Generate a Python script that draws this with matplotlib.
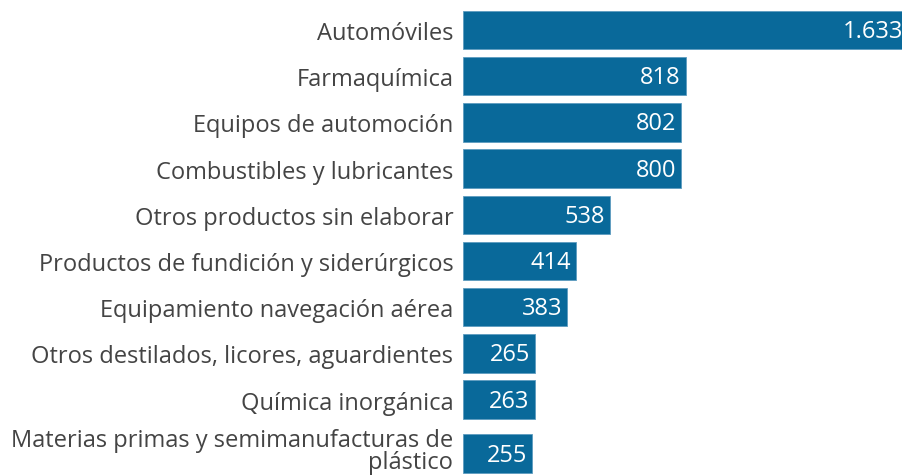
import matplotlib
matplotlib.use('Agg')
import matplotlib.pyplot as plt
import matplotlib.transforms as mtransforms
import numpy as np

# exportaciones por sector
sectores = ['Automóviles', 'Farmaquímica', 'Equipos de automoción',
            'Combustibles y lubricantes', 'Otros productos sin elaborar',
            'Productos de fundición y siderúrgicos',
            'Equipamiento navegación aérea',
            'Otros destilados, licores, aguardientes',
            'Química inorgánica',
            'Materias primas y semimanufacturas de\nplástico']
valores = [1633, 818, 802, 800, 538, 414, 383, 265, 263, 255]
etiquetas = ['1.633', '818', '802', '800', '538', '414', '383', '265', '263', '255']

azul = '#09699a'
gris = '#444444'
fuente = 'Open Sans'

# filas con etiqueta de dos lineas se desplazan un poco hacia abajo
nlineas = np.array([s.count('\n') + 1 for s in sectores])
ypos = np.arange(len(sectores)) + 0.17 * (nlineas - 1)

W, H = 902, 477
fig = plt.figure(figsize=(W / 100, H / 100), dpi=100)
# geometria en pixeles
x0 = 463.0
px_unidad = 0.2724
xmax = 1700
pitch = 46.2
y_top = 31 - 0.6 * pitch
y_bot = 31 + (ypos[-1] + 0.6) * pitch
ax = fig.add_axes([x0 / W, 1 - y_bot / H, xmax * px_unidad / W, (y_bot - y_top) / H])

ax.barh(ypos, valores, height=0.83, color=azul, edgecolor='#5d9cc0', linewidth=0.6)
ax.set_xlim(0, xmax)
ax.set_ylim(ypos[-1] + 0.6, -0.6)

for y, v, t in zip(ypos, valores, etiquetas):
    ax.text(v - 18, y + 0.02, t, ha='right', va='center', color='white',
            fontsize=17, family=fuente)

ax.set_yticks(ypos)
ax.set_yticklabels(sectores, fontsize=17, family=fuente, color=gris,
                   linespacing=0.85)
ax.tick_params(axis='y', length=0, pad=7)
ax.set_xticks([])
for s in ax.spines.values():
    s.set_visible(False)

# la etiqueta de dos lineas sube un poco para no salirse por abajo
for lab, n in zip(ax.get_yticklabels(), nlineas):
    if n > 1:
        lab.set_transform(lab.get_transform() +
                          mtransforms.ScaledTranslation(0, 3 / 72, fig.dpi_scale_trans))

fig.savefig('out.png', dpi=100)
